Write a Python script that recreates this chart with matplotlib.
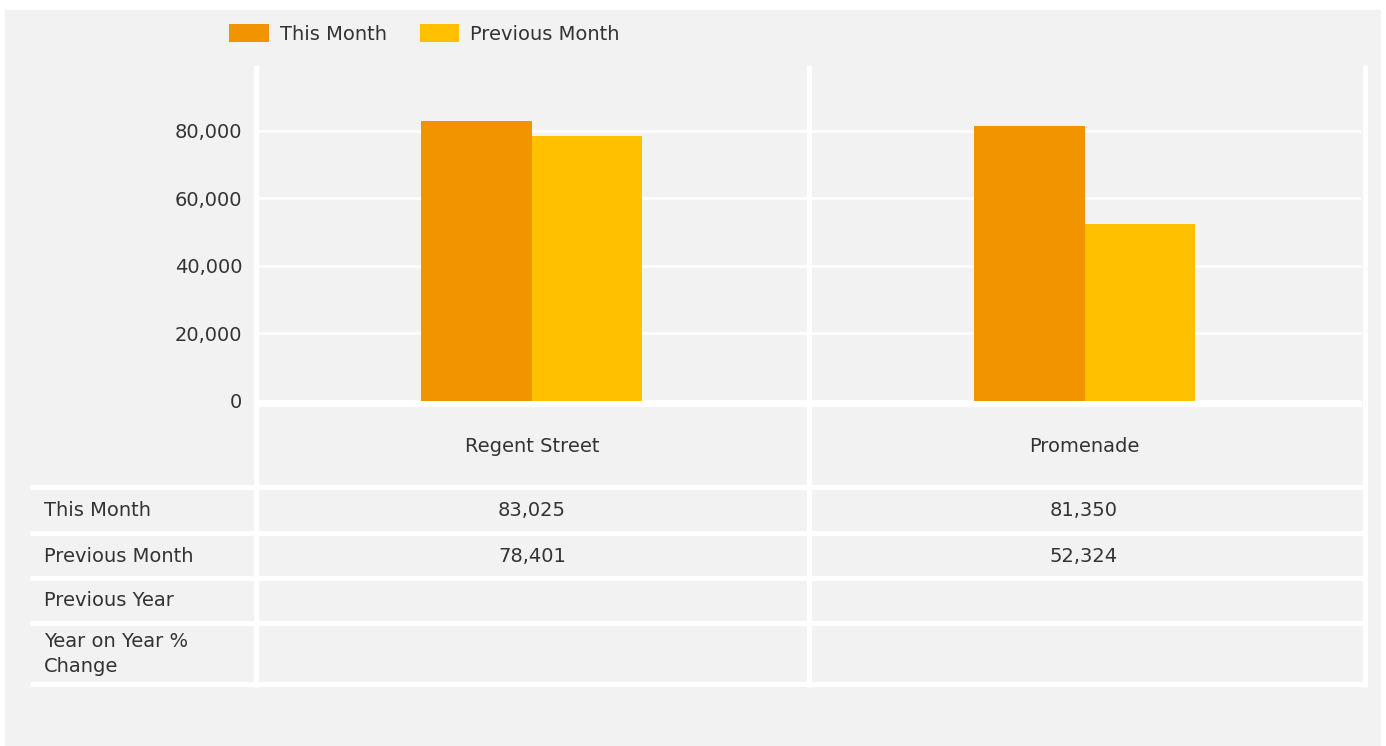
#!/usr/bin/env python3
"""Footfall this month vs previous month, bars plus summary table."""
import numpy as np, matplotlib
matplotlib.use("Agg"); import matplotlib.pyplot as plt
from matplotlib.ticker import FuncFormatter

locations = ["Regent Street", "Promenade"]
this_month = [83025, 81350]
prev_month = [78401, 52324]
prev_year = [None, None]
yoy_change = [None, None]
series = ["This Month", "Previous Month"]
row_labels = ["This Month", "Previous Month", "Previous Year", "Year on Year %\nChange"]
yticks = [0, 20000, 40000, 60000, 80000]

BG = "#f2f2f2"; TXT = "#333333"
C_THIS = "#f29400"; C_PREV = "#ffc000"
W, H = 1386, 746
plt.rcParams["font.family"] = "DejaVu Sans"
fig = plt.figure(figsize=(W / 100, H / 100), dpi=100, facecolor="white")

# overlay in pixel coords for background + table grid
ov = fig.add_axes([0, 0, 1, 1], zorder=0)
ov.set_xlim(0, W); ov.set_ylim(H, 0); ov.axis("off")
ov.add_patch(plt.Rectangle((5, 10), W - 10, H - 10, color=BG, lw=0))

# bar chart
ax = fig.add_axes([255 / W, 1 - 401 / H, (1361 - 255) / W, (401 - 65) / H], zorder=1)
ax.set_facecolor("none")
x = np.arange(len(locations)); bw = 0.2
ax.bar(x - bw / 2, this_month, bw, color=C_THIS, label=series[0], zorder=3)
ax.bar(x + bw / 2, prev_month, bw, color=C_PREV, label=series[1], zorder=3)
ax.set_xlim(-0.5, len(locations) - 0.5); ax.set_ylim(0, 99500)
ax.set_yticks(yticks)
ax.yaxis.set_major_formatter(FuncFormatter(lambda v, p: f"{int(v):,}"))
ax.tick_params(axis="y", length=0, pad=9, labelsize=14, labelcolor=TXT)
ax.set_xticks([])
for s in ax.spines.values(): s.set_visible(False)
ax.grid(axis="y", color="white", lw=2, zorder=1)

# legend
h, l = ax.get_legend_handles_labels()
fig.legend(h, l, loc="upper left", bbox_to_anchor=(229 / W, 1 - 24 / H), ncol=2, frameon=False,
           fontsize=14, labelcolor=TXT, handlelength=2.05, handleheight=1.05,
           handletextpad=0.55, columnspacing=1.7, borderpad=0, borderaxespad=0)

# table grid (white separators)
lw = 3.8
col_x = [256, 809, 1365]
for cx in col_x:
    ov.plot([cx, cx], [65, 687], color="white", lw=lw, solid_capstyle="butt")
ov.plot([259, 1362], [404, 404], color="white", lw=4.5, solid_capstyle="butt")
for ry in [487, 532.5, 578, 623, 684]:
    ov.plot([30, 1367], [ry, ry], color="white", lw=lw, solid_capstyle="butt")

col_c = [532, 1084]
for cx, name in zip(col_c, locations):
    ov.text(cx, 446, name, ha="center", va="center", fontsize=14, color=TXT)
row_y = [510, 556, 601, 654]
for ry, lab in zip(row_y, row_labels):
    ov.text(44, ry, lab, ha="left", va="center", fontsize=14, color=TXT, linespacing=1.4)
for ry, vals in zip(row_y, [this_month, prev_month, prev_year, yoy_change]):
    for cx, v in zip(col_c, vals):
        if v is not None:
            ov.text(cx, ry, f"{v:,}", ha="center", va="center", fontsize=14, color=TXT)

fig.savefig("out.png", dpi=100, facecolor="white")
